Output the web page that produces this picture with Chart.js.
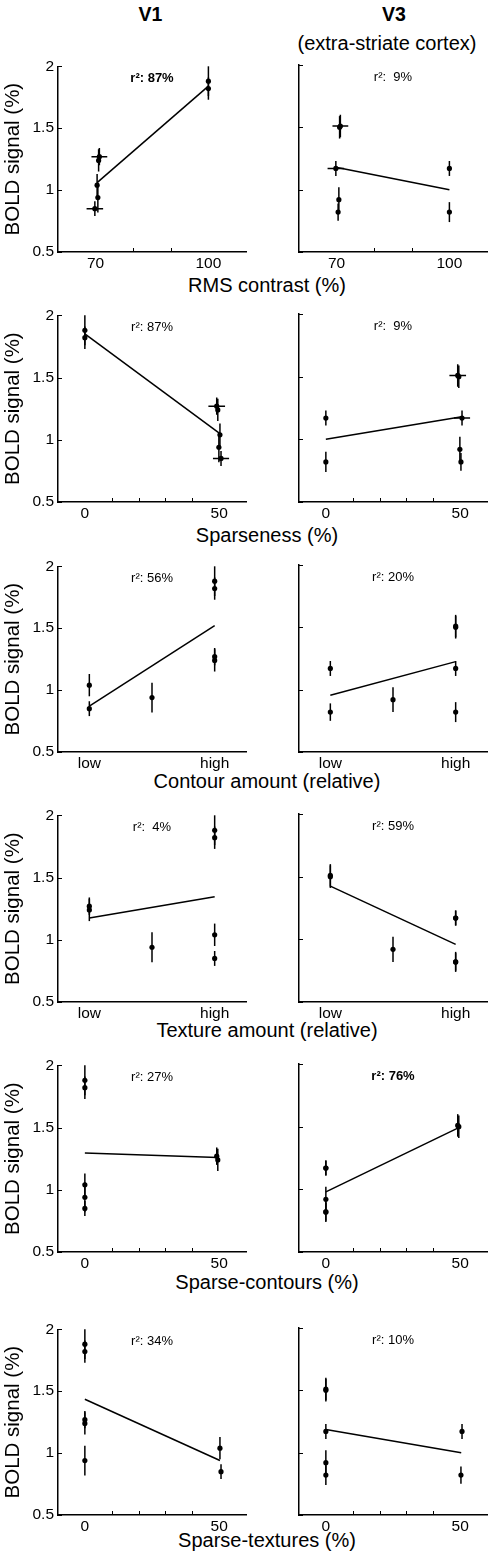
<!DOCTYPE html>
<html>
<head>
<meta charset="utf-8">
<script src="https://cdn.jsdelivr.net/npm/chart.js@4.4.1/dist/chart.umd.min.js"></script>
<style>
html,body{margin:0;padding:0;background:#fff;}
body{width:492px;height:1559px;position:relative;overflow:hidden;font-family:"Liberation Sans",Arial,Helvetica,sans-serif;color:#000;}
.lbl{position:absolute;white-space:nowrap;text-align:center;transform:translate(-50%,-50%);line-height:1;}
.panel{position:absolute;}
.panel canvas{display:block;}
</style>
</head>
<body>
<div id="root"></div>
<script>
// ---------------- DATA ----------------
// Column headers
const regionNames = ['V1', 'V3'];
const regionSubtitle = ['', '(extra-striate cortex)'];

// Seven stimulus conditions; BOLD signal (%) and its error (±)
const v1Signal = [1.88, 1.82, 1.27, 1.24, 1.04, 0.94, 0.85];
const v1Err    = [0.12, 0.09, 0.07, 0.09, 0.09, 0.12, 0.06];
const v3Signal = [1.17, 0.82, 1.51, 1.50, 0.82, 0.92, 1.17];
const v3Err    = [0.06, 0.08, 0.09, 0.09, 0.07, 0.10, 0.06];

// Stimulus properties of each condition (one array per x variable)
const rmsContrast    = [100, 100, 71.0, 70.8, 70.4, 70.6, 69.8];
const rmsContrastErr = [0, 0, 2.1, 0, 0, 0, 2.2];
const sparseness     = [0, 0, 49.1, 49.5, 50.3, 49.9, 50.7];
const sparsenessErr  = [0, 0, 3.1, 0, 0, 0, 3.0];
const contourAmount  = [1, 1, 1, 1, 0, 0.5, 0];
const textureAmount  = [1, 1, 0, 0, 1, 0.5, 1];
const sparseContours = [0, 0, 49.1, 49.5, 0, 0, 0];
const sparseTextures = [0, 0, 0, 0, 50.3, 0, 50.7];

// Regression lines [x1, y1, x2, y2] per row
const fitV1 = [[70.4,1.06,100,1.84],[0,1.85,50.3,1.05],[0,0.87,1,1.52],[0,1.175,1,1.345],[0,1.295,49.5,1.26],[0,1.435,50.3,0.94]];
const fitV3 = [[69.8,1.18,100,1.00],[0,1.00,50.6,1.18],[0,0.955,1,1.225],[0,1.425,1,0.96],[0,0.98,49.3,1.49],[0,1.185,50.4,1.00]];

// Variance explained labels
const r2V1 = ['87%', '87%', '56%', ' 4%', '27%', '34%'];
const r2V3 = [' 9%', ' 9%', '20%', '59%', '76%', '10%'];
const r2BoldV1 = [true, false, false, false, false, false];
const r2BoldV3 = [false, false, false, false, true, false];

// Axis titles and tick labels
const xTitles = ['RMS contrast (%)', 'Sparseness (%)', 'Contour amount (relative)', 'Texture amount (relative)', 'Sparse-contours (%)', 'Sparse-textures (%)'];
const yTitle = 'BOLD signal (%)';
const xTickValues = [[70,100],[0,50],[0,1],[0,1],[0,50],[0,50]];
const xTickLabels = [['70','100'],['0','50'],['low','high'],['low','high'],['0','50'],['0','50']];
const xMinorTicks = [[80,90],[10,20,30,40],[],[],[10,20,30,40],[10,20,30,40]];
const xRanges = [[60,110],[-10,60],[-0.25,1.25],[-0.25,1.25],[-10,60],[-10,60]];
const yTickValues = [0.5, 1, 1.5, 2];
const yRange = [0.5, 2];

const xValuesByRow = [rmsContrast, sparseness, contourAmount, textureAmount, sparseContours, sparseTextures];
const xErrByRow = [rmsContrastErr, sparsenessErr, null, null, null, null];

// ---------------- LAYOUT ----------------
const rowTop    = [65, 314, 565, 814, 1064, 1328];
const rowBottom = [252, 502, 752, 1002, 1252, 1515];
const xTitleCenterY = [285, 535, 781, 1030, 1282, 1540];
const xTitleCenterX = 267;
const FONT = '"Liberation Sans", Arial, Helvetica, sans-serif';

Chart.defaults.font.family = FONT;
Chart.defaults.color = '#000';

const root = document.getElementById('root');
function addLabel(text, x, y, css) {
  const d = document.createElement('div');
  d.className = 'lbl';
  d.textContent = text;
  d.style.left = x + 'px';
  d.style.top = y + 'px';
  d.style.cssText += css;
  root.appendChild(d);
}
addLabel(regionNames[0], 150.5, 15, 'font-weight:bold;font-size:19.5px;');
addLabel(regionNames[1], 394, 15, 'font-weight:bold;font-size:19.5px;');
addLabel(regionSubtitle[1], 387, 43, 'font-size:20px;');
xTitles.forEach((t, r) => addLabel(t, xTitleCenterX, xTitleCenterY[r], 'font-size:20px;'));

function makePanel(r, c) {
  const isLeft = c === 0;
  const T = rowTop[r], B = rowBottom[r];
  const padTop = 12, xAxisH = 26;
  const divLeft = isLeft ? 0 : 250;
  const W = isLeft ? 250 : 242;
  const yAxisW = isLeft ? 58 : 49;
  const padRight = isLeft ? 4 : 5;
  const H = B - T + padTop + xAxisH;

  const wrap = document.createElement('div');
  wrap.className = 'panel';
  wrap.style.cssText = `left:${divLeft}px;top:${T - padTop}px;width:${W}px;height:${H}px;`;
  const cv = document.createElement('canvas');
  cv.width = W; cv.height = H;
  cv.style.width = W + 'px'; cv.style.height = H + 'px';
  wrap.appendChild(cv);
  root.appendChild(wrap);

  const sig = isLeft ? v1Signal : v3Signal;
  const err = isLeft ? v1Err : v3Err;
  const xs = xValuesByRow[r];
  const xe = xErrByRow[r];
  const fit = isLeft ? fitV1[r] : fitV3[r];
  const r2 = isLeft ? r2V1[r] : r2V3[r];
  const r2Bold = isLeft ? r2BoldV1[r] : r2BoldV3[r];
  const points = sig.map((y, i) => ({ x: xs[i], y }));
  const tickVals = xTickValues[r];
  const tickLabs = xTickLabels[r];

  const decor = {
    id: 'decor' + r + c,
    beforeDatasetsDraw(chart) {
      const ctx = chart.ctx, sx = chart.scales.x, sy = chart.scales.y;
      ctx.save();
      ctx.strokeStyle = '#000';
      ctx.lineWidth = 1.5;
      points.forEach((p, i) => {
        const px = sx.getPixelForValue(p.x);
        const py = sy.getPixelForValue(p.y);
        ctx.beginPath();
        ctx.moveTo(px, sy.getPixelForValue(p.y - err[i]));
        ctx.lineTo(px, sy.getPixelForValue(Math.min(yRange[1], p.y + err[i])));
        if (xe && xe[i]) {
          ctx.moveTo(sx.getPixelForValue(p.x - xe[i]), py);
          ctx.lineTo(sx.getPixelForValue(p.x + xe[i]), py);
        }
        ctx.stroke();
      });
      ctx.restore();
    },
    afterDatasetsDraw(chart) {
      const ctx = chart.ctx, ca = chart.chartArea;
      ctx.save();
      ctx.fillStyle = '#000';
      ctx.font = (r2Bold ? 'bold ' : '') + '13px ' + FONT;
      ctx.textAlign = 'center';
      ctx.textBaseline = 'middle';
      ctx.fillText('r\u00B2: ' + r2, (ca.left + ca.right) / 2, ca.top + 12.5);
      ctx.restore();
    },
    afterDraw(chart) {
      const ctx = chart.ctx, ca = chart.chartArea, sx = chart.scales.x, sy = chart.scales.y;
      ctx.save();
      ctx.strokeStyle = '#000';
      ctx.lineWidth = 1;
      ctx.beginPath();
      yTickValues.forEach(v => {
        const py = Math.round(sy.getPixelForValue(v)) + 0.5;
        ctx.moveTo(ca.left, py); ctx.lineTo(ca.left + 4, py);
      });
      xMinorTicks[r].forEach(v => {
        const px = Math.round(sx.getPixelForValue(v)) + 0.5;
        ctx.moveTo(px, ca.bottom); ctx.lineTo(px, ca.bottom - 4);
      });
      ctx.stroke();
      ctx.restore();
    }
  };

  new Chart(cv, {
    type: 'scatter',
    data: {
      datasets: [
        {
          data: [{ x: fit[0], y: fit[1] }, { x: fit[2], y: fit[3] }],
          showLine: true,
          borderColor: '#000',
          borderWidth: 1.5,
          pointRadius: 0,
          fill: false
        },
        {
          data: points,
          pointRadius: 2.6,
          pointBackgroundColor: '#000',
          pointBorderWidth: 0,
          backgroundColor: '#000',
          borderColor: '#000'
        }
      ]
    },
    options: {
      responsive: false,
      animation: false,
      devicePixelRatio: 1,
      events: [],
      layout: { padding: { top: padTop, right: padRight, bottom: 0, left: 0 } },
      plugins: { legend: { display: false }, tooltip: { enabled: false } },
      scales: {
        x: {
          type: 'linear',
          position: 'bottom',
          min: xRanges[r][0],
          max: xRanges[r][1],
          grid: { display: false, drawTicks: false },
          border: { display: true, color: '#000', width: 1.5 },
          afterBuildTicks: s => { s.ticks = tickVals.map(v => ({ value: v })); },
          afterFit: s => { s.height = xAxisH; },
          ticks: {
            autoSkip: false,
            maxRotation: 0,
            padding: 2,
            color: '#000',
            font: { size: 15.5, family: FONT },
            callback: v => { const k = tickVals.indexOf(v); return k >= 0 ? tickLabs[k] : ''; }
          }
        },
        y: {
          type: 'linear',
          position: 'left',
          min: yRange[0],
          max: yRange[1],
          grid: { display: false, drawTicks: false },
          border: { display: true, color: '#000', width: 1.5 },
          afterBuildTicks: s => { s.ticks = yTickValues.map(v => ({ value: v })); },
          afterFit: s => { s.width = yAxisW; },
          ticks: {
            display: isLeft,
            padding: 4,
            color: '#000',
            font: { size: 15.5, family: FONT },
            callback: v => String(v)
          },
          title: {
            display: isLeft,
            text: yTitle,
            color: '#000',
            font: { size: 20.5, family: FONT },
            padding: { top: 1.5, bottom: 0 }
          }
        }
      }
    },
    plugins: [decor]
  });
}

for (let r = 0; r < 6; r++) {
  makePanel(r, 0);
  makePanel(r, 1);
}
</script>
</body>
</html>
